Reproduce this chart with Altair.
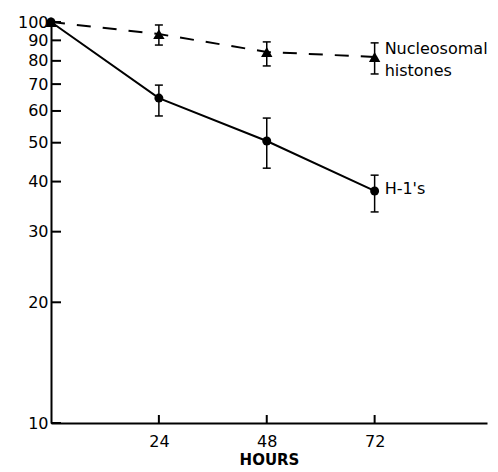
import altair as alt
import pandas as pd

# ---- data ----
hours = [0, 24, 48, 72]
h1_mean = [100, 64.6, 50.5, 37.9]
h1_low = [100, 58.3, 43.2, 33.6]
h1_high = [100, 69.6, 57.6, 41.5]
nuc_mean = [100, 93.3, 84.2, 81.8]
nuc_low = [100, 87.6, 77.7, 74.2]
nuc_high = [100, 98.3, 89.2, 88.7]

y_ticks = [10, 20, 30, 40, 50, 60, 70, 80, 90, 100]
x_ticks = [24, 48, 72]

label_text = ["Nucleosomal", "histones", "H-1's"]
label_hour = [72, 72, 72]
label_value = [85.5, 75.5, 38.3]

FONT = "DejaVu Sans"

h1 = pd.DataFrame({"hours": hours, "mean": h1_mean, "low": h1_low, "high": h1_high})
nuc = pd.DataFrame({"hours": hours, "mean": nuc_mean, "low": nuc_low, "high": nuc_high})
h1_err = h1[h1.hours > 0]
nuc_err = nuc[nuc.hours > 0]
labels = pd.DataFrame({"text": label_text, "hours": label_hour, "value": label_value})
yt = pd.DataFrame({"v": y_ticks})
xt = pd.DataFrame({"h": x_ticks})

xscale = alt.Scale(domain=[0, 97], nice=False, zero=False)
yscale = alt.Scale(type="log", domain=[10, 100], nice=False)

X = alt.X("hours:Q", scale=xscale,
          axis=alt.Axis(values=x_ticks, ticks=False, title="HOURS", labelPadding=10,
                        titleFontWeight="bold", titleFontSize=15, titlePadding=3,
                        titleFont=FONT))
Y = alt.Y("mean:Q", scale=yscale,
          axis=alt.Axis(values=y_ticks, ticks=False, title=None, labelPadding=3))

h1_line = alt.Chart(h1).mark_line(color="black", strokeWidth=2).encode(x=X, y=Y)
h1_pts = alt.Chart(h1).mark_point(shape="circle", filled=True, size=80, color="black", opacity=1).encode(x="hours:Q", y="mean:Q")
nuc_line = alt.Chart(nuc).mark_line(color="black", strokeWidth=2, strokeDash=[14, 12]).encode(x="hours:Q", y="mean:Q")
nuc_pts = alt.Chart(nuc).mark_point(shape="triangle-up", filled=True, size=130, color="black", opacity=1).encode(x="hours:Q", y="mean:Q")

def errbars(df):
    r = alt.Chart(df).mark_rule(color="black", strokeWidth=1.5).encode(
        x="hours:Q", y="low:Q", y2="high:Q")
    t1 = alt.Chart(df).mark_tick(orient="horizontal", color="black", size=8, thickness=1.5, opacity=1).encode(
        x="hours:Q", y="low:Q")
    t2 = alt.Chart(df).mark_tick(orient="horizontal", color="black", size=8, thickness=1.5, opacity=1).encode(
        x="hours:Q", y="high:Q")
    return r + t1 + t2

ytick_rules = alt.Chart(yt).mark_rule(color="black", strokeWidth=2).encode(
    y=alt.Y("v:Q", scale=yscale), x=alt.value(0), x2=alt.value(10))
xtick_rules = alt.Chart(xt).mark_rule(color="black", strokeWidth=2).encode(
    x=alt.X("h:Q", scale=xscale), y=alt.value(401), y2=alt.value(393))

text = alt.Chart(labels).mark_text(align="left", baseline="middle", dx=10, fontSize=16,
                                   font=FONT, color="black").encode(
    x="hours:Q", y="value:Q", text="text:N")

chart = alt.layer(
    h1_line, nuc_line, errbars(h1_err), errbars(nuc_err), h1_pts, nuc_pts,
    ytick_rules, xtick_rules, text
).properties(
    width=436, height=401,
    padding={"left": 43, "top": 14, "right": 3, "bottom": 48},
    autosize=alt.AutoSizeParams(type="none"),
).configure_view(stroke=None).configure_axis(
    grid=False, domainColor="black", domainWidth=2, labelColor="black",
    labelFont=FONT, labelFontSize=16, titleColor="black",
)

chart.save("out.html", embed_options={"renderer": "svg", "actions": False})
